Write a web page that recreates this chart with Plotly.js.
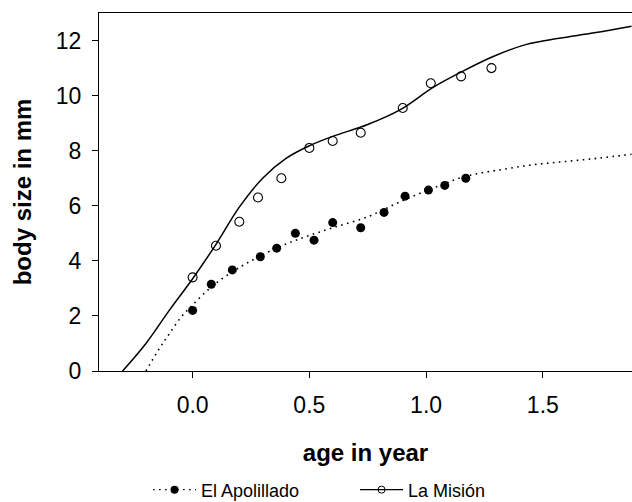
<!DOCTYPE html>
<html>
<head>
<meta charset="utf-8">
<script src="https://cdn.plot.ly/plotly-3.0.1.min.js"></script>
<style>html,body{margin:0;padding:0;background:#fff;}#chart{width:632px;height:502px;}</style>
</head>
<body>
<div id="chart"></div>
<script>
// Observed data: El Apolillado (filled circles)
const apolAge = [0, 0.08, 0.17, 0.29, 0.36, 0.44, 0.52, 0.60, 0.72, 0.82, 0.91, 1.01, 1.08, 1.17];
const apolSize = [2.2, 3.15, 3.67, 4.15, 4.46, 5.0, 4.75, 5.39, 5.2, 5.76, 6.35, 6.57, 6.74, 7.0];

// Observed data: La Misión (open circles)
const misionAge = [0, 0.1, 0.2, 0.28, 0.38, 0.5, 0.6, 0.72, 0.9, 1.02, 1.15, 1.28];
const misionSize = [3.4, 4.55, 5.42, 6.3, 7.0, 8.1, 8.35, 8.65, 9.55, 10.45, 10.7, 11.0];

// Fitted growth curves
const apolFitAge = [-0.20, -0.14, -0.10, -0.05, 0.0, 0.08, 0.17, 0.25, 0.33, 0.42, 0.50, 0.60, 0.75, 0.89, 1.03, 1.17, 1.32, 1.46, 1.60, 1.74, 1.88];
const apolFitSize = [0, 0.85, 1.35, 1.95, 2.4, 3.05, 3.6, 4.0, 4.35, 4.68, 4.92, 5.2, 5.6, 6.15, 6.64, 7.07, 7.31, 7.49, 7.61, 7.73, 7.87];

const misionFitAge = [-0.30, -0.20, -0.10, 0.0, 0.10, 0.20, 0.30, 0.40, 0.50, 0.60, 0.75, 0.89, 1.03, 1.16, 1.29, 1.43, 1.57, 1.72, 1.88];
const misionFitSize = [0, 1.0, 2.2, 3.35, 4.6, 5.95, 7.0, 7.72, 8.18, 8.52, 8.95, 9.49, 10.3, 10.9, 11.43, 11.86, 12.08, 12.28, 12.52];

const seriesNames = ['El Apolillado', 'La Misión'];
const xTicks = [0, 0.5, 1, 1.5];
const yTicks = [0, 2, 4, 6, 8, 10, 12];

const FONT = 'Liberation Sans, Arial, Helvetica, sans-serif';
const DOT = '1.6px,4.4px';

const traces = [
  {x: apolFitAge, y: apolFitSize, mode: 'lines', line: {color: '#000', width: 1.6, dash: DOT, shape: 'spline', smoothing: 1}, showlegend: false, hoverinfo: 'skip'},
  {x: misionFitAge, y: misionFitSize, mode: 'lines', line: {color: '#000', width: 1.5, shape: 'spline', smoothing: 1}, showlegend: false, hoverinfo: 'skip'},
  {x: apolAge, y: apolSize, mode: 'markers', marker: {symbol: 'circle', size: 9, color: '#000'}, showlegend: false},
  {x: misionAge, y: misionSize, mode: 'markers', marker: {symbol: 'circle-open', size: 9, color: '#000', line: {width: 1.1}}, showlegend: false},
  // legend entries
  {x: [null], y: [null], name: seriesNames[0], mode: 'lines+markers', line: {color: '#000', width: 1.4, dash: DOT}, marker: {symbol: 'circle', size: 8, color: '#000'}},
  {x: [null], y: [null], name: seriesNames[1], mode: 'lines+markers', line: {color: '#000', width: 1.2}, marker: {symbol: 'circle-open', size: 7, color: '#000', line: {width: 1}}}
];

const layout = {
  width: 632, height: 502,
  margin: {l: 99, r: 0, t: 13, b: 131},
  paper_bgcolor: '#fff', plot_bgcolor: '#fff',
  font: {family: FONT, color: '#000', size: 18},
  showlegend: true,
  xaxis: {
    range: [-0.401, 1.882], tickvals: xTicks, tickformat: '.1f',
    showgrid: false, zeroline: false, showline: true, mirror: true, linecolor: '#000', linewidth: 1,
    ticks: 'outside', ticklen: 6, tickcolor: '#000', tickwidth: 1, ticklabelstandoff: 7,
    tickfont: {size: 23, family: FONT, color: '#000'},
    title: {text: '<b>age in year</b>', font: {size: 24, family: FONT, color: '#000'}, standoff: 27}
  },
  yaxis: {
    range: [0, 13], tickvals: yTicks,
    showgrid: false, zeroline: false, showline: true, linecolor: '#000', linewidth: 1,
    ticks: 'outside', ticklen: 6, tickcolor: '#000', tickwidth: 1, ticklabelstandoff: 6,
    tickfont: {size: 23, family: FONT, color: '#000'},
    title: {text: '<b>body size in mm</b>', font: {size: 24, family: FONT, color: '#000'}, standoff: 17}
  },
  legend: {
    orientation: 'h', x: 0.092, xanchor: 'left', yref: 'container', y: 0.024, yanchor: 'middle',
    font: {size: 18, family: FONT, color: '#000'},
    itemwidth: 43, entrywidth: 149, entrywidthmode: 'pixels', bgcolor: 'rgba(0,0,0,0)'
  }
};

Plotly.newPlot('chart', traces, layout, {staticPlot: true, displayModeBar: false});
</script>
</body>
</html>
